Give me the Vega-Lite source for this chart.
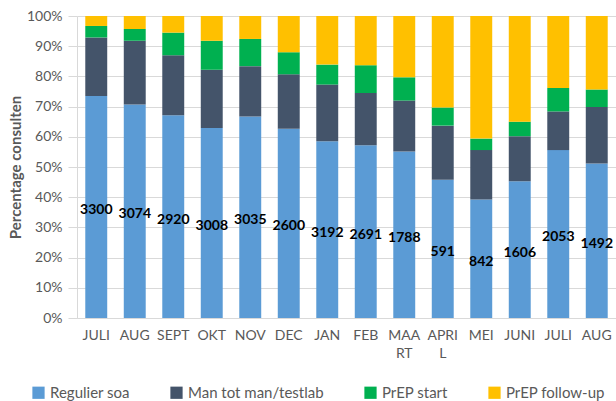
{
  "$schema": "https://vega.github.io/schema/vega-lite/v6.json",
  "autosize": {"type": "none"},
  "padding": {"left": 77, "top": 16, "right": 0, "bottom": 83},
  "width": 539,
  "height": 302,
  "background": "white",
  "config": {
    "font": "Lato",
    "view": {"stroke": null},
    "axis": {"labelFont": "Lato", "titleFont": "Lato"},
    "axisY": {
      "titleFontSize": 15,
      "titleFontWeight": "bold",
      "titleColor": "#595959",
      "titleX": -54,
      "labelColor": "#595959",
      "labelFontSize": 14,
      "labelPadding": 6,
      "labelOverlap": false,
      "tickColor": "#D9D9D9",
      "tickSize": 9,
      "domainColor": "#D9D9D9",
      "gridColor": "#D9D9D9"
    }
  },
  "data": {
    "values": [
      {"nr": 1, "cat": "Regulier soa", "volgorde": 1, "pct": 73.5, "n": 3300},
      {"nr": 1, "cat": "Man tot man/testlab", "volgorde": 2, "pct": 19.4},
      {"nr": 1, "cat": "PrEP start", "volgorde": 3, "pct": 3.8},
      {"nr": 1, "cat": "PrEP follow-up", "volgorde": 4, "pct": 3.3},
      {"nr": 2, "cat": "Regulier soa", "volgorde": 1, "pct": 70.7, "n": 3074},
      {"nr": 2, "cat": "Man tot man/testlab", "volgorde": 2, "pct": 21.1},
      {"nr": 2, "cat": "PrEP start", "volgorde": 3, "pct": 3.9},
      {"nr": 2, "cat": "PrEP follow-up", "volgorde": 4, "pct": 4.3},
      {"nr": 3, "cat": "Regulier soa", "volgorde": 1, "pct": 67.1, "n": 2920},
      {"nr": 3, "cat": "Man tot man/testlab", "volgorde": 2, "pct": 19.9},
      {"nr": 3, "cat": "PrEP start", "volgorde": 3, "pct": 7.5},
      {"nr": 3, "cat": "PrEP follow-up", "volgorde": 4, "pct": 5.5},
      {"nr": 4, "cat": "Regulier soa", "volgorde": 1, "pct": 62.9, "n": 3008},
      {"nr": 4, "cat": "Man tot man/testlab", "volgorde": 2, "pct": 19.3},
      {"nr": 4, "cat": "PrEP start", "volgorde": 3, "pct": 9.6},
      {"nr": 4, "cat": "PrEP follow-up", "volgorde": 4, "pct": 8.2},
      {"nr": 5, "cat": "Regulier soa", "volgorde": 1, "pct": 66.7, "n": 3035},
      {"nr": 5, "cat": "Man tot man/testlab", "volgorde": 2, "pct": 16.7},
      {"nr": 5, "cat": "PrEP start", "volgorde": 3, "pct": 9.0},
      {"nr": 5, "cat": "PrEP follow-up", "volgorde": 4, "pct": 7.6},
      {"nr": 6, "cat": "Regulier soa", "volgorde": 1, "pct": 62.7, "n": 2600},
      {"nr": 6, "cat": "Man tot man/testlab", "volgorde": 2, "pct": 18.0},
      {"nr": 6, "cat": "PrEP start", "volgorde": 3, "pct": 7.3},
      {"nr": 6, "cat": "PrEP follow-up", "volgorde": 4, "pct": 12.0},
      {"nr": 7, "cat": "Regulier soa", "volgorde": 1, "pct": 58.5, "n": 3192},
      {"nr": 7, "cat": "Man tot man/testlab", "volgorde": 2, "pct": 18.8},
      {"nr": 7, "cat": "PrEP start", "volgorde": 3, "pct": 6.6},
      {"nr": 7, "cat": "PrEP follow-up", "volgorde": 4, "pct": 16.1},
      {"nr": 8, "cat": "Regulier soa", "volgorde": 1, "pct": 57.2, "n": 2691},
      {"nr": 8, "cat": "Man tot man/testlab", "volgorde": 2, "pct": 17.3},
      {"nr": 8, "cat": "PrEP start", "volgorde": 3, "pct": 9.2},
      {"nr": 8, "cat": "PrEP follow-up", "volgorde": 4, "pct": 16.3},
      {"nr": 9, "cat": "Regulier soa", "volgorde": 1, "pct": 55.1, "n": 1788},
      {"nr": 9, "cat": "Man tot man/testlab", "volgorde": 2, "pct": 16.9},
      {"nr": 9, "cat": "PrEP start", "volgorde": 3, "pct": 7.7},
      {"nr": 9, "cat": "PrEP follow-up", "volgorde": 4, "pct": 20.3},
      {"nr": 10, "cat": "Regulier soa", "volgorde": 1, "pct": 45.8, "n": 591},
      {"nr": 10, "cat": "Man tot man/testlab", "volgorde": 2, "pct": 17.9},
      {"nr": 10, "cat": "PrEP start", "volgorde": 3, "pct": 6.0},
      {"nr": 10, "cat": "PrEP follow-up", "volgorde": 4, "pct": 30.3},
      {"nr": 11, "cat": "Regulier soa", "volgorde": 1, "pct": 39.2, "n": 842},
      {"nr": 11, "cat": "Man tot man/testlab", "volgorde": 2, "pct": 16.4},
      {"nr": 11, "cat": "PrEP start", "volgorde": 3, "pct": 3.8},
      {"nr": 11, "cat": "PrEP follow-up", "volgorde": 4, "pct": 40.6},
      {"nr": 12, "cat": "Regulier soa", "volgorde": 1, "pct": 45.3, "n": 1606},
      {"nr": 12, "cat": "Man tot man/testlab", "volgorde": 2, "pct": 14.9},
      {"nr": 12, "cat": "PrEP start", "volgorde": 3, "pct": 4.8},
      {"nr": 12, "cat": "PrEP follow-up", "volgorde": 4, "pct": 35.0},
      {"nr": 13, "cat": "Regulier soa", "volgorde": 1, "pct": 55.6, "n": 2053},
      {"nr": 13, "cat": "Man tot man/testlab", "volgorde": 2, "pct": 12.8},
      {"nr": 13, "cat": "PrEP start", "volgorde": 3, "pct": 7.8},
      {"nr": 13, "cat": "PrEP follow-up", "volgorde": 4, "pct": 23.8},
      {"nr": 14, "cat": "Regulier soa", "volgorde": 1, "pct": 51.2, "n": 1492},
      {"nr": 14, "cat": "Man tot man/testlab", "volgorde": 2, "pct": 18.7},
      {"nr": 14, "cat": "PrEP start", "volgorde": 3, "pct": 5.8},
      {"nr": 14, "cat": "PrEP follow-up", "volgorde": 4, "pct": 24.3}
    ]
  },
  "encoding": {
    "x": {
      "field": "nr",
      "type": "ordinal",
      "scale": {"paddingInner": 0.43, "paddingOuter": 0.215},
      "axis": {
        "title": null,
        "labelAngle": 0,
        "ticks": false,
        "domainColor": "#D9D9D9",
        "labelColor": "#595959",
        "labelFontSize": 14,
        "labelPadding": 10,
        "labelLineHeight": 18,
        "labelExpr": "split(['','JULI','AUG','SEPT','OKT','NOV','DEC','JAN','FEB','MAA|RT','APRI|L','MEI','JUNI','JULI','AUG'][datum.value], '|')"
      }
    }
  },
  "layer": [
    {
      "mark": {"type": "bar"},
      "encoding": {
        "y": {
          "field": "pct",
          "type": "quantitative",
          "stack": "zero",
          "title": "Percentage consulten",
          "scale": {"domain": [0, 100], "nice": false},
          "axis": {
            "title": "Percentage consulten",
            "values": [0, 10, 20, 30, 40, 50, 60, 70, 80, 90, 100],
            "labelExpr": "datum.value + '%'"
          }
        },
        "color": {
          "field": "cat",
          "type": "nominal",
          "sort": ["Regulier soa", "Man tot man/testlab", "PrEP start", "PrEP follow-up"],
          "scale": {
            "domain": ["Regulier soa", "Man tot man/testlab", "PrEP start", "PrEP follow-up"],
            "range": ["#5B9BD5", "#44546A", "#00B050", "#FFC000"]
          },
          "legend": {
            "title": null,
            "orient": "none",
            "direction": "horizontal",
            "legendX": -46,
            "legendY": 369,
            "symbolType": "square",
            "symbolSize": 150,
            "symbolStrokeWidth": 0,
            "labelFontSize": 15,
            "labelColor": "#595959",
            "labelFont": "Lato",
            "columnPadding": 39,
            "labelOffset": 4
          }
        },
        "order": {"field": "volgorde", "type": "quantitative", "sort": "ascending"}
      }
    },
    {
      "transform": [{"filter": "datum.cat === 'Regulier soa'"}],
      "mark": {"type": "text", "font": "Lato", "fontWeight": "bold", "fontSize": 14, "color": "black", "dy": 3},
      "encoding": {
        "y": {
          "field": "pct",
          "type": "quantitative",
          "stack": "zero",
          "bandPosition": 0.5,
          "title": "Percentage consulten",
          "axis": {
            "title": "Percentage consulten",
            "values": [0, 10, 20, 30, 40, 50, 60, 70, 80, 90, 100],
            "labelExpr": "datum.value + '%'"
          }
        },
        "text": {"field": "n", "type": "quantitative", "format": "d"}
      }
    }
  ]
}
